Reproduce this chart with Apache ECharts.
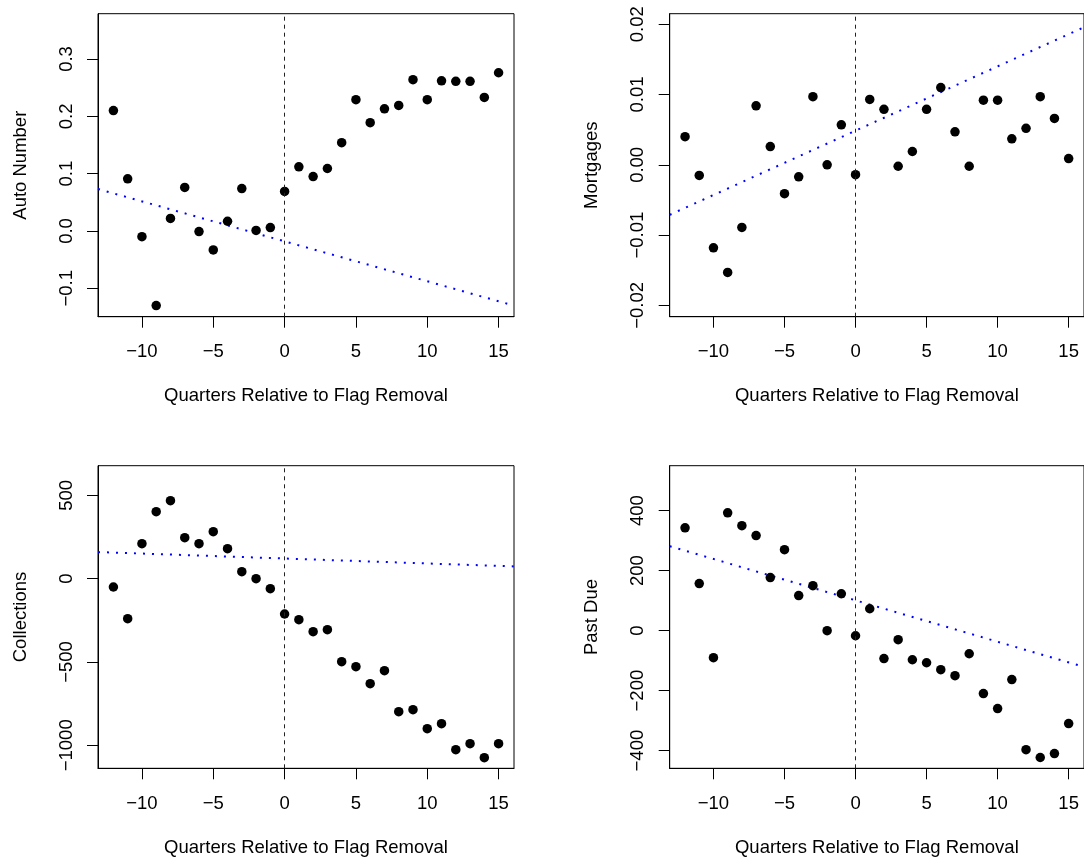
<!DOCTYPE html>
<html>
<head>
<meta charset="utf-8">
<script src="https://cdn.jsdelivr.net/npm/echarts@6/dist/echarts.min.js"></script>
<style>
html, body { margin: 0; padding: 0; background: #fff; }
#chart { width: 1084px; height: 861px; }
</style>
</head>
<body>
<div id="chart"></div>
<script>
var quarters = [-12, -11, -10, -9, -8, -7, -6, -5, -4, -3, -2, -1, 0, 1, 2, 3, 4, 5, 6, 7, 8, 9, 10, 11, 12, 13, 14, 15];

var autoNumber = [0.210, 0.091, -0.010, -0.130, 0.022, 0.076, -0.001, -0.033, 0.017, 0.074, 0.001, 0.006, 0.069, 0.112,
    0.095, 0.109, 0.154, 0.229, 0.189, 0.213, 0.219, 0.264, 0.229, 0.262, 0.261, 0.261, 0.233, 0.276];
var mortgages = [0.0040, -0.0015, -0.0118, -0.0153, -0.0089, 0.0084, 0.0026, -0.0041, -0.0017, 0.0097, 0.0000, 0.0057,
    -0.0014, 0.0093, 0.0079, -0.0002, 0.0019, 0.0079, 0.0110, 0.0047, -0.0002, 0.0092, 0.0092, 0.0037, 0.0052, 0.0097, 0.0066, 0.0009];
var collections = [-50, -240, 210, 402, 468, 246, 210, 282, 180, 42, 0, -60, -212, -246, -318, -306, -498, -528, -630,
    -552, -798, -786, -900, -870, -1026, -990, -1074, -990];
var pastDue = [343, 157, -90, 393, 350, 317, 177, 270, 117, 150, 0, 123, -17, 73, -93, -30, -97, -107, -130, -150, -77,
    -210, -260, -163, -397, -423, -410, -310];

// dotted trend lines: intercept + slope * quarter
var fitIntercepts = [-0.018, 0.00486, 121, 101];
var fitSlopes = [-0.00697, 0.000915, -2.96, -13.8];

var panelNames = ['Auto Number', 'Mortgages', 'Collections', 'Past Due'];
var xTicks = [-10, -5, 0, 5, 10, 15];
var yTicks = [
    [-0.1, 0.0, 0.1, 0.2, 0.3],
    [-0.02, -0.01, 0.00, 0.01, 0.02],
    [-1000, -500, 0, 500],
    [-400, -200, 0, 200, 400]
];
var yDecimals = [1, 2, 0, 0];
var yRanges = [[-0.1495, 0.379], [-0.0216, 0.0215], [-1138, 678], [-459, 550]];
var xRange = [-13.08, 16.08];
var flagQuarter = 0;
var xTitle = 'Quarters Relative to Flag Removal';

var fontFam = '"Liberation Sans", Arial, Helvetica, sans-serif';
var gridBoxes = [
    { left: 98, top: 13.7, width: 416, height: 303 },
    { left: 669.7, top: 13.7, width: 416, height: 303 },
    { left: 98, top: 465.7, width: 416, height: 302.6 },
    { left: 669.7, top: 465.7, width: 416, height: 302.6 }
];

function fmtNum(v, d) {
    return v.toFixed(d).replace('-', '\u2212');
}

var seriesData = [autoNumber, mortgages, collections, pastDue];
var grids = [], xAxes = [], yAxes = [], series = [];

for (var i = 0; i < 4; i++) {
    var g = gridBoxes[i];
    grids.push({
        left: g.left, top: g.top, width: g.width, height: g.height,
        show: true, borderColor: '#000', borderWidth: 1, backgroundColor: 'transparent'
    });

    xAxes.push({
        type: 'value', gridIndex: i, min: xRange[0], max: xRange[1],
        name: xTitle, nameLocation: 'middle', nameGap: 70,
        nameTextStyle: { fontFamily: fontFam, fontSize: 18.5, color: '#000' },
        axisLine: { show: true, onZero: false, lineStyle: { color: '#000', width: 1 } },
        axisTick: { show: true, inside: false, length: 11, customValues: xTicks, lineStyle: { color: '#000', width: 1 } },
        axisLabel: { margin: 26, customValues: xTicks, fontFamily: fontFam, fontSize: 18.5, color: '#000',
            formatter: function(v) { return fmtNum(v, 0); } },
        splitLine: { show: false }
    });

    (function(d) {
        yAxes.push({
            type: 'value', gridIndex: i, min: yRanges[i][0], max: yRanges[i][1],
            name: panelNames[i], nameLocation: 'middle', nameGap: 68, nameRotate: 90,
            nameTextStyle: { fontFamily: fontFam, fontSize: 18.5, color: '#000' },
            axisLine: { show: true, onZero: false, lineStyle: { color: '#000', width: 1 } },
            axisTick: { show: true, inside: false, length: 11, customValues: yTicks[i], lineStyle: { color: '#000', width: 1 } },
            axisLabel: { margin: 22, rotate: 90, customValues: yTicks[i], fontFamily: fontFam, fontSize: 18.5, color: '#000',
                formatter: function(v) { return fmtNum(v, d); } },
            splitLine: { show: false }
        });
    })(yDecimals[i]);

    var pts = [];
    for (var k = 0; k < quarters.length; k++) {
        pts.push([quarters[k], seriesData[i][k]]);
    }

    series.push({
        type: 'scatter', xAxisIndex: i, yAxisIndex: i, data: pts,
        symbol: 'circle', symbolSize: 9.5, itemStyle: { color: '#000', opacity: 1 },
        silent: true, z: 3,
        markLine: {
            silent: true, symbol: 'none', label: { show: false },
            lineStyle: { color: '#222', width: 1, type: [4, 4] },
            data: [{ xAxis: flagQuarter }]
        }
    });

    series.push({
        type: 'line', xAxisIndex: i, yAxisIndex: i, showSymbol: false, silent: true, z: 2,
        data: [
            [xRange[0], fitIntercepts[i] + fitSlopes[i] * xRange[0]],
            [xRange[1], fitIntercepts[i] + fitSlopes[i] * xRange[1]]
        ],
        lineStyle: { color: '#0000ff', width: 2, type: [2, 7] }
    });
}

var chart = echarts.init(document.getElementById('chart'), null, { renderer: 'canvas' });
chart.setOption({
    animation: false,
    backgroundColor: '#fff',
    grid: grids,
    xAxis: xAxes,
    yAxis: yAxes,
    series: series
});
</script>
</body>
</html>
